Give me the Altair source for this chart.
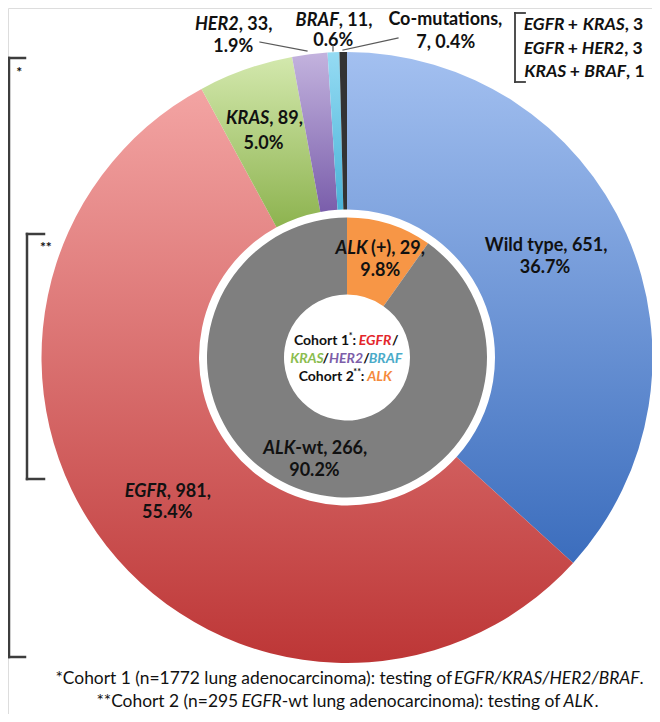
import math
import altair as alt
import pandas as pd

# ---------------- data ----------------
outer_names = ["Wild type", "EGFR", "KRAS", "HER2", "BRAF", "Co-mutations"]
outer_values = [651, 981, 89, 33, 11, 7]
outer_pcts = ["36.7%", "55.4%", "5.0%", "1.9%", "0.6%", "0.4%"]
inner_names = ["ALK (+)", "ALK-wt"]
inner_values = [29, 266]
inner_pcts = ["9.8%", "90.2%"]
comut_first = ["EGFR", "EGFR", "KRAS"]
comut_second = ["KRAS", "HER2", "BRAF"]
comut_counts = [3, 3, 1]
genes = ["EGFR", "KRAS", "HER2", "BRAF", "ALK"]

# ---------------- layout / style ----------------
OFF = 8
CX, CY = 347 - OFF, 357.5 - OFF
R_OUT, R_OUT_IN = 305.5, 148
R_IN_OUT, R_IN_IN = 140, 63
FONT = "Lato"

def grad(top, bottom):
    return alt.Gradient(gradient="linear", x1=0, x2=0, y1=0, y2=1,
                        stops=[alt.GradientStop(color=top, offset=0),
                               alt.GradientStop(color=bottom, offset=1)])

outer_fill = {
    "Wild type": grad("#a3c0f0", "#3b6dbd"),
    "EGFR": grad("#f3a4a3", "#bd3636"),
    "KRAS": grad("#d3e8ad", "#8db34f"),
    "HER2": grad("#c3b3de", "#7a5eab"),
    "BRAF": grad("#95dbf3", "#4ab3d8"),
    "Co-mutations": "#333333",
}
inner_fill = {"ALK (+)": "#f79646", "ALK-wt": "#7f7f7f"}

theta_scale = alt.Scale(domain=[0, 1], range=[0, 2 * math.pi], nice=False, zero=True)


def ring(names, values):
    df = pd.DataFrame({"name": names, "value": values, "order": list(range(len(names)))})
    return (alt.Chart(df)
            .transform_joinaggregate(total="sum(value)")
            .transform_window(cum="sum(value)", sort=[alt.SortField("order")], frame=[None, 0])
            .transform_calculate(f0="(datum.cum - datum.value) / datum.total",
                                 f1="datum.cum / datum.total"))


layers = []
for n in outer_names:
    layers.append(
        ring(outer_names, outer_values).transform_filter(alt.datum.name == n)
        .mark_arc(outerRadius=R_OUT, innerRadius=R_OUT_IN, fill=outer_fill[n], strokeWidth=0)
        .encode(theta=alt.Theta("f0:Q", scale=theta_scale, stack=None), theta2="f1:Q",
                x=alt.value(CX), y=alt.value(CY)))
for n in inner_names:
    layers.append(
        ring(inner_names, inner_values).transform_filter(alt.datum.name == n)
        .mark_arc(outerRadius=R_IN_OUT, innerRadius=R_IN_IN, fill=inner_fill[n], strokeWidth=0)
        .encode(theta=alt.Theta("f0:Q", scale=theta_scale, stack=None), theta2="f1:Q",
                x=alt.value(CX), y=alt.value(CY)))

# ---------------- text helpers ----------------
WID = {' ': .193, '%': .80, '(': .31, ')': .31, '*': .40, '+': .58, ',': .23, '-': .36, '.': .23,
       '/': .38, ':': .25, '=': .58,
       'A': .70, 'B': .66, 'C': .66, 'D': .75, 'E': .56, 'F': .54, 'G': .72, 'H': .76, 'I': .30,
       'K': .69, 'L': .50, 'M': .92, 'N': .76, 'O': .80, 'P': .62, 'R': .65, 'S': .54, 'T': .60,
       'W': 1.0,
       'a': .50, 'b': .57, 'c': .46, 'd': .57, 'e': .53, 'f': .34, 'g': .52, 'h': .57, 'i': .26,
       'k': .52, 'l': .26, 'm': .85, 'n': .57, 'o': .57, 'p': .57, 'r': .38, 's': .43, 't': .36,
       'u': .57, 'w': .80, 'y': .52}
for d in "0123456789":
    WID[d] = .58


def tw(s, size, italic=False, weight="bold"):
    if italic:
        f = 0.96 if weight == "bold" else 0.937
    else:
        f = 1.0
    return sum(WID.get(c, .55) for c in s) * size * f


rows = []


def add_line(segs, y, size, weight="bold", cx=None, x_left=None, pivot=0):
    """segs: list of (text, italic, color, size_override, dy).
    The join at index `pivot` is exact: earlier segments are right-aligned, later left-aligned."""
    sz = [s or size for (t, it, col, s, d) in segs]
    ws = [tw(t, z, it, weight) for (t, it, col, s, d), z in zip(segs, sz)]
    start = cx - sum(ws) / 2 if x_left is None else x_left
    P = start + sum(ws[:pivot])
    for i, ((t, it, col, s, d), z) in enumerate(zip(segs, sz)):
        if i < pivot:
            right = P - sum(ws[i + 1:pivot])
            trail = tw(" " * (len(t) - len(t.rstrip(" "))), z, it, weight)
            x, al = right - trail, "right"
        else:
            left = P + sum(ws[pivot:i])
            lead = tw(" " * (len(t) - len(t.lstrip(" "))), z, it, weight)
            x, al = left + lead, "left"
        rows.append(dict(x=x - OFF, y=y + d - OFF, text=t.strip(" "),
                         italic="italic" if it else "normal", weight=weight, align=al,
                         color=col, size=z))


K = "#111111"


def name_segs(name, value):
    for g in genes:
        if name.startswith(g):
            return [(g, True, K, None, 0), (name[len(g):] + f", {value},", False, K, None, 0)], 1
    return [(f"{name}, {value},", False, K, None, 0)], 0


def polar(frac, r):
    a = 2 * math.pi * frac
    return CX + OFF + r * math.sin(a), CY + OFF - r * math.cos(a)


def mids(values):
    tot = sum(values)
    out, c = [], 0
    for v in values:
        out.append((c + v / 2) / tot)
        c += v
    return out


LS = 18
# labels inside the slices: (radius, dx, dy, line spacing)
inside = {"Wild type": (225, -8, -9, 22), "EGFR": (230, 1, 3, 21), "KRAS": (240, -4, 0, 25)}
om = mids(outer_values)
for n, v, p, m in zip(outer_names, outer_values, outer_pcts, om):
    if n in inside:
        r, ddx, ddy, sp = inside[n]
        x, y = polar(m, r)
        x += ddx
        y += ddy
        segs, pv = name_segs(n, v)
        add_line(segs, y - sp / 2, LS, cx=x, pivot=pv)
        add_line([(p, False, K, None, 0)], y + sp / 2, LS, cx=x)

inside_in = {"ALK (+)": (102, 2, 0, 22), "ALK-wt": (108, 0, 0, 22)}
im = mids(inner_values)
for n, v, p, m in zip(inner_names, inner_values, inner_pcts, im):
    r, ddx, ddy, sp = inside_in[n]
    x, y = polar(m, r)
    segs, pv = name_segs(n, v)
    add_line(segs, y + ddy - sp / 2, LS, cx=x + ddx, pivot=pv)
    add_line([(p, False, K, None, 0)], y + ddy + sp / 2, LS, cx=x + ddx)

# labels outside with leader lines: (center x, line1 y, line2 y)
outside = {"HER2": (233, 25, 47), "BRAF": (333, 21, 41), "Co-mutations": (445, 20, 43)}
for n, v, p in zip(outer_names, outer_values, outer_pcts):
    if n in outside:
        cx, y1, y2 = outside[n]
        if n == "Co-mutations":
            add_line([("Co-mutations,", False, K, None, 0)], y1, LS, cx=cx)
            add_line([(f"{v}, {p}", False, K, None, 0)], y2, LS, cx=cx)
        else:
            segs, pv = name_segs(n, v)
            add_line(segs, y1, LS, cx=cx, pivot=pv)
            add_line([(p, False, K, None, 0)], y2, LS, cx=cx)

# co-mutation breakdown
for i, (g1, g2, c) in enumerate(zip(comut_first, comut_second, comut_counts)):
    add_line([(g1, True, K, None, 0), (" + ", False, K, None, 0),
              (g2, True, K, None, 0), (f", {c}", False, K, None, 0)],
             25 + i * 23.5, 17.5, x_left=523, pivot=3)

# centre legend text
CS = 14
gene_col = {"EGFR": "#e3262b", "KRAS": "#8bbd4f", "HER2": "#7d5ea9", "BRAF": "#4aabc9", "ALK": "#f58a3c"}
add_line([("Cohort 1", False, K, None, 0), ("*", False, K, 9, -5), (": ", False, K, None, 0),
          ("EGFR", True, gene_col["EGFR"], None, 0), ("/", False, K, None, 0)], 341, CS, cx=346, pivot=3)
add_line([("KRAS", True, gene_col["KRAS"], None, 0), ("/", False, K, None, 0),
          ("HER2", True, gene_col["HER2"], None, 0), ("/", False, K, None, 0),
          ("BRAF", True, gene_col["BRAF"], None, 0)], 359, CS, cx=346, pivot=2)
add_line([("Cohort 2", False, K, None, 0), ("**", False, K, 9, -5), (": ", False, K, None, 0),
          ("ALK", True, gene_col["ALK"], None, 0)], 377, CS, cx=346, pivot=3)

# bracket marks
add_line([("*", False, K, 14, 0)], 73, 14, cx=19)
add_line([("**", False, K, 14, 0)], 248, 14, cx=45.5)

# footnotes
FS = 17.4
add_line([("*Cohort 1 (n=1772 lung adenocarcinoma): testing of ", False, K, None, 0),
          ("EGFR/KRAS/HER2/BRAF", True, K, None, 0), (".", False, K, None, 0)],
         679, FS, weight="normal", cx=350, pivot=2)
add_line([("**Cohort 2 (n=295 ", False, K, None, 0), ("EGFR", True, K, None, 0),
          ("-wt lung adenocarcinoma): testing of ", False, K, None, 0),
          ("ALK", True, K, None, 0), (".", False, K, None, 0)],
         702, FS, weight="normal", cx=348, pivot=2)

text_df = pd.DataFrame(rows)
for (it, wt, al), g in text_df.groupby(["italic", "weight", "align"]):
    layers.append(
        alt.Chart(g).mark_text(align=al, baseline="middle", font=FONT,
                               fontStyle=it, fontWeight=wt)
        .encode(x=alt.X("x:Q", scale=None, axis=None), y=alt.Y("y:Q", scale=None, axis=None),
                text="text:N", color=alt.Color("color:N", scale=None),
                size=alt.Size("size:Q", scale=None)))

# ---------------- lines: brackets + leaders ----------------
BR = "#3d3d3d"
LD = "#5a5a5a"
segs = [
    # outer left bracket (*)
    (9, 58, 9, 657, 2.5, BR), (9, 58, 25, 58, 2.5, BR), (9, 657, 25, 657, 2.5, BR),
    # inner left bracket (**)
    (27, 234, 27, 479, 2.5, BR), (27, 234, 44, 234, 2.5, BR), (27, 479, 44, 479, 2.5, BR),
    # co-mutation bracket
    (515, 13, 515, 82, 1.8, BR), (515, 13, 525, 13, 1.8, BR), (515, 82, 525, 82, 1.8, BR),
    # leaders
    (260, 42, 307, 51, 1.2, LD), (333, 45, 333, 51, 1.2, LD), (343, 50, 398, 38, 1.2, LD),
]
rule_df = pd.DataFrame([dict(x=a - OFF, y=b - OFF, x2=c - OFF, y2=d - OFF, w=w, color=col)
                        for a, b, c, d, w, col in segs])
layers.append(
    alt.Chart(rule_df).mark_rule(strokeCap="square")
    .encode(x=alt.X("x:Q", scale=None, axis=None), y=alt.Y("y:Q", scale=None, axis=None),
            x2="x2:Q", y2="y2:Q", color=alt.Color("color:N", scale=None),
            size=alt.Size("w:Q", scale=None)))

chart = (alt.layer(*layers)
         .properties(width=660 - 2 * OFF, height=722 - 2 * OFF, padding=0,
                     autosize=alt.AutoSizeParams(type="none"))
         .configure_view(stroke=None)
         .configure(background="white"))

chart.save("out.html", embed_options={"renderer": "svg", "actions": False})
